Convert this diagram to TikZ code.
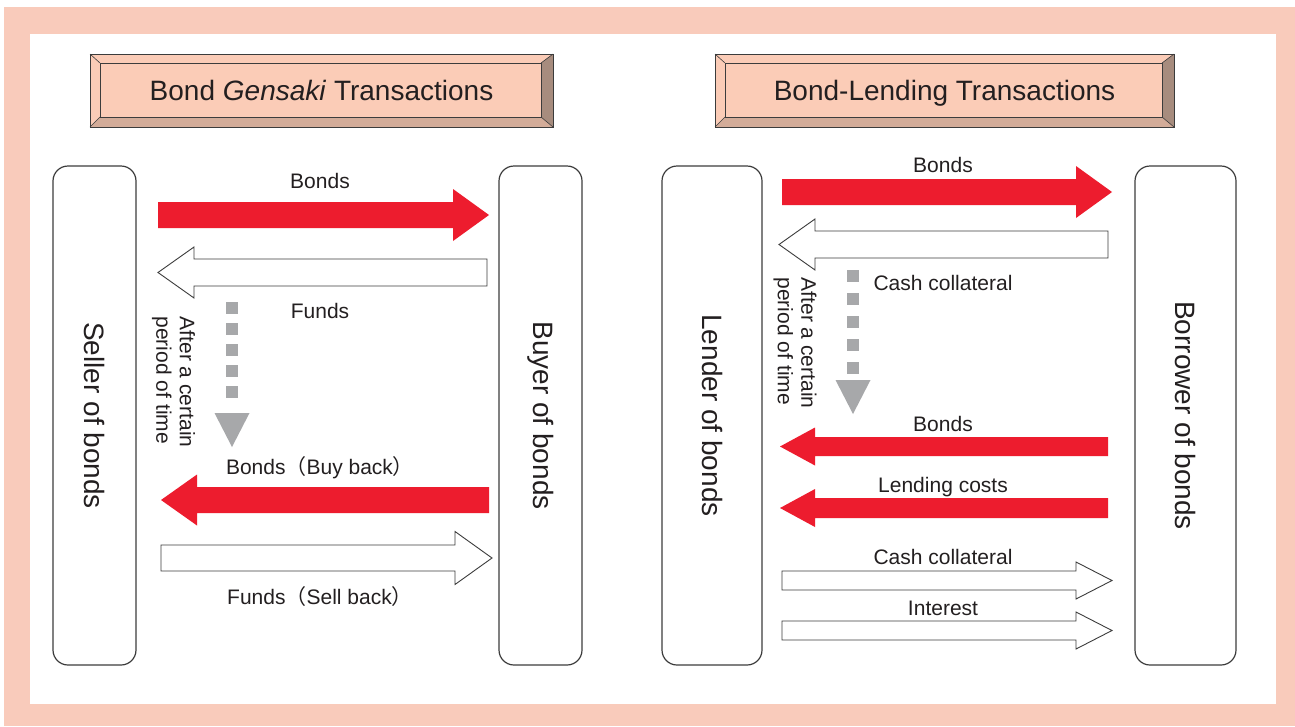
\documentclass[tikz,border=0pt]{standalone}
\usepackage{fontspec}
\setmainfont{Liberation Sans}
\newfontfamily\cjk{Noto Sans CJK JP}
\definecolor{framepink}{HTML}{F9CBBB}
\definecolor{titleface}{HTML}{FBCCB7}
\definecolor{bevelright}{HTML}{A78C7E}
\definecolor{bevelbottom}{HTML}{D3AC99}
\definecolor{arrowred}{HTML}{ED1C2E}
\definecolor{dotgray}{HTML}{A7A8AA}
\definecolor{linegray}{HTML}{3C3C3C}
\definecolor{txt}{HTML}{231F20}
\newcommand{\blkarrow}[7]{% style, x start, x tip, y centre, half shaft, half head, x head base
  \path[#1] (#2,#4-#5) -- (#7,#4-#5) -- (#7,#4-#6) -- (#3,#4) -- (#7,#4+#6) -- (#7,#4+#5) -- (#2,#4+#5) -- cycle;}
\newcommand{\titlebox}[6]{% name, x1, y1, x2, y2, text
  \fill[titleface] (#2,#3) rectangle (#4,#5);
  \fill[bevelright] (#4,#3) -- (#4,#5) -- (#4-12,#5-10) -- (#4-12,#3+9) -- cycle;
  \fill[bevelbottom] (#2,#5) -- (#4,#5) -- (#4-12,#5-10) -- (#2+10,#5-10) -- cycle;
  \draw[titleline] (#2,#3) rectangle (#4,#5);
  \draw[titleline] (#2+10,#3+9) rectangle (#4-12,#5-10);
  \draw[titleline, line width=0.6pt] (#2,#3) -- (#2+10,#3+9) (#4,#3) -- (#4-12,#3+9)
    (#2,#5) -- (#2+10,#5-10) (#4,#5) -- (#4-12,#5-10);
  \node[titletext] (#1) at ({(#2+#4)/2},{(#3+#5)/2+3}) {#6};}
\newcommand{\dotarrow}[4]{% x centre, first square y, square step, triangle top y
  \foreach \k in {0,...,4} {\fill[dotgray] (#1-6,#2+\k*#3-6) rectangle (#1+6,#2+\k*#3+6);}
  \fill[dotgray] (#1-17.5,#4) -- (#1+17.5,#4) -- (#1,#4+34) -- cycle;}
\begin{document}
\begin{tikzpicture}[x=1pt,y=-1pt,
  titleline/.style={draw=linegray, line width=1pt},
  titletext/.style={text=txt, font=\fontsize{28}{32}\selectfont, text height=20pt, text depth=6pt, inner sep=0pt},
  party/.style={draw=linegray, line width=1.2pt, rounded corners=15pt, fill=white, minimum height=499pt, inner sep=0pt},
  partytext/.style={text=txt, rotate=-90, font=\fontsize{28}{32}\selectfont},
  lbl/.style={text=txt, font=\fontsize{21}{24}\selectfont, text height=15pt, text depth=4pt, inner sep=0pt},
  vlbl/.style={text=txt, rotate=-90, align=left, font=\fontsize{21}{23.5}\selectfont, inner sep=0pt},
  redarrow/.style={fill=arrowred},
  whitearrow/.style={fill=white, draw=linegray, line width=0.9pt, line join=miter}]
\useasboundingbox (0,0) rectangle (1295,726);
\fill[framepink] (4,7) rectangle (1295,726);
\fill[white] (30,34) rectangle (1276,704);

% titles
\titlebox{t1}{90}{54}{553}{127}{Bond \textit{Gensaki} Transactions}
\titlebox{t2}{715}{54}{1174}{127}{Bond-Lending Transactions}

% parties
\node[party, minimum width=83pt] (seller) at (94.5,415.5) {};
\node[party, minimum width=83pt] (buyer) at (540.5,415.5) {};
\node[party, minimum width=100pt] (lender) at (712,415.5) {};
\node[party, minimum width=101pt] (borrower) at (1185.5,415.5) {};
\node[partytext] (sellerT) at (seller.center) {Seller of bonds};
\node[partytext] (buyerT) at (buyer.center) {Buyer of bonds};
\node[partytext] (lenderT) at (lender.center) {Lender of bonds};
\node[partytext] (borrowerT) at (borrower.center) {Borrower of bonds};

% Gensaki arrows
\blkarrow{redarrow}{158}{489}{215}{13}{26}{453}
\blkarrow{whitearrow}{487}{158}{272.5}{13.5}{25.5}{194}
\blkarrow{redarrow}{489}{161}{500}{13}{25.5}{197}
\blkarrow{whitearrow}{161}{492}{558}{13}{26.5}{455}
\node[lbl] (g1) at (320,183) {Bonds};
\node[lbl] (g2) at (320,313) {Funds};
\node[lbl] (g3) at (320,469) {Bonds{\cjk （}Buy back{\cjk ）}};
\node[lbl] (g4) at (320,599) {Funds{\cjk （}Sell back{\cjk ）}};
\dotarrow{232}{308}{21}{413}
\node[vlbl] (gt) at (173.5,382) {After a certain\\period of time};

% Lending arrows
\blkarrow{redarrow}{782}{1112}{192}{13}{26}{1076}
\blkarrow{whitearrow}{1108}{779}{244.5}{13.5}{25.5}{815}
\blkarrow{redarrow}{1108}{780}{446.5}{9.5}{19}{815}
\blkarrow{redarrow}{1108}{780}{508}{10}{19}{815}
\blkarrow{whitearrow}{782}{1112}{580.5}{9.5}{18.5}{1076}
\blkarrow{whitearrow}{782}{1112}{630.5}{9.5}{18.5}{1076}
\node[lbl] (b1) at (943,167) {Bonds};
\node[lbl] (b2) at (943,285) {Cash collateral};
\node[lbl] (b3) at (943,426) {Bonds};
\node[lbl] (b4) at (943,487) {Lending costs};
\node[lbl] (b5) at (943,559) {Cash collateral};
\node[lbl] (b6) at (943,610) {Interest};
\dotarrow{853}{276}{23}{380}
\node[vlbl] (bt) at (795,343) {After a certain\\period of time};
\end{tikzpicture}
\end{document}
